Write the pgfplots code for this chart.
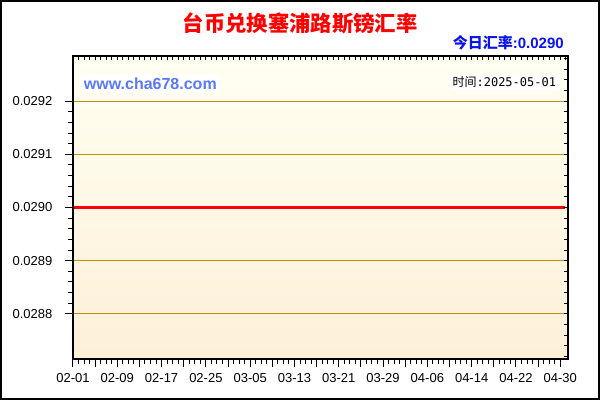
\documentclass[border=0pt]{standalone}
\usepackage{fontspec}
\usepackage{pgfplots}
\pgfplotsset{compat=1.18}
\setmainfont{Liberation Sans}
\newfontfamily\cjk{Noto Sans CJK SC}
\newfontfamily\dmono{DejaVu Sans Mono}

\definecolor{bgtop}{HTML}{FFFFF2}
\definecolor{bgbot}{HTML}{FDF0D8}
\definecolor{gridc}{HTML}{C48C00}
\definecolor{urlblue}{HTML}{5A78FA}
\definecolor{rateblue}{HTML}{0A14F0}

\begin{document}
\begin{tikzpicture}[x=0.75pt,y=0.75pt]
% canvas and frame
\fill[white] (0,0) rectangle (600,400);

\begin{axis}[
    at={(54.75pt,30.75pt)}, anchor=south west,
    scale only axis,
    width=371.25pt, height=227.25pt,
    xmin=0, xmax=89.4,
    ymin=0.028715, ymax=0.029285,
    axis background/.style={shade, top color=bgtop, bottom color=bgbot},
    axis line style={black, line width=1pt},
    xtick={0,4,...,88},
    xticklabels={02-01,,02-09,,02-17,,02-25,,03-05,,03-13,,03-21,,03-29,,04-06,,04-14,,04-22,,04-30},
    minor x tick num=3,
    ytick={0.0288,0.0289,0.0290,0.0291,0.0292},
    yticklabels={0.0288,0.0289,0.0290,0.0291,0.0292},
    scaled y ticks=false,
    minor y tick num=4,
    xtick pos=bottom, ytick pos=left,
    tick align=outside,
    major tick length=6pt, minor tick length=3.75pt,
    tick style={black, line width=0.75pt},
    ymajorgrids,
    grid style={gridc, line width=0.75pt},
    tick label style={font=\fontsize{9.75}{11}\selectfont, black},
    yticklabel style={xshift=-6pt},
    xticklabel style={yshift=-1.5pt},
]
\addplot[red, line width=2.25pt] coordinates {
(0,0.0290)(4,0.0290)(8,0.0290)(12,0.0290)(16,0.0290)(20,0.0290)(24,0.0290)(28,0.0290)
(32,0.0290)(36,0.0290)(40,0.0290)(44,0.0290)(48,0.0290)(52,0.0290)(56,0.0290)(60,0.0290)
(64,0.0290)(68,0.0290)(72,0.0290)(76,0.0290)(80,0.0290)(84,0.0290)(88,0.0290)(88.9,0.0290)
};
\end{axis}

% inner ticks on top and right
\begin{axis}[
    at={(54.75pt,30.75pt)}, anchor=south west,
    scale only axis,
    width=371.25pt, height=227.25pt,
    xmin=0, xmax=89.4,
    ymin=0.028715, ymax=0.029285,
    axis line style={black, line width=1pt},
    xtick={0,1,...,89}, xticklabels={},
    ytick={0.02872,0.02874,0.02876,0.02878,0.0288,0.02882,0.02884,0.02886,0.02888,0.0289,0.02892,0.02894,0.02896,0.02898,0.0290,0.02902,0.02904,0.02906,0.02908,0.0291,0.02912,0.02914,0.02916,0.02918,0.0292,0.02922,0.02924,0.02926,0.02928},
    yticklabels={},
    scaled y ticks=false,
    xtick pos=top, ytick pos=right,
    tick align=inside,
    major tick length=3pt,
    tick style={black, line width=0.75pt},
]
\end{axis}

\draw[black, line width=1.5pt] (1,1) rectangle (599,399);

% texts
\node[text=red, font=\cjk\bfseries\fontsize{16}{19}\selectfont] at (300,377) {台币兑换塞浦路斯镑汇率};
\node[anchor=east, text=rateblue, inner sep=0pt, font=\bfseries\fontsize{11.25}{13}\selectfont] at (564,357) {{\cjk 今日汇率}:0.0290};
\node[anchor=west, fill=white, inner sep=2pt, text=urlblue, font=\bfseries\fontsize{12}{14}\selectfont] at (81,316) {www.cha678.com};
\node[anchor=east, fill=white, inner sep=2pt, text=black, font=\fontsize{9}{11}\selectfont] at (559,318) {{\cjk 时间}\dmono :2025-05-01};
\end{tikzpicture}
\end{document}
